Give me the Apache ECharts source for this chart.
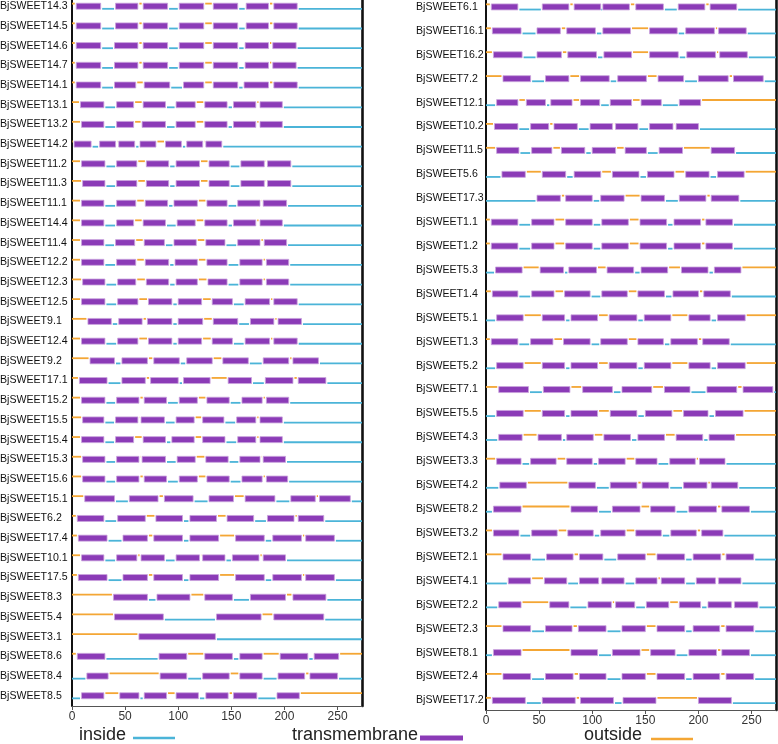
<!DOCTYPE html>
<html>
<head>
<meta charset="utf-8">
<script src="https://cdn.jsdelivr.net/npm/echarts@6/dist/echarts.min.js"></script>
<style>
    html, body { margin: 0; padding: 0; background: #fff; }
    #sweet { width: 778px; height: 744px; }
</style>
</head>
<body>
<div id="sweet"></div>
<script>
    // amino acid axis end (both panels)
    var xMax = 273;

    var leftNames = ['BjSWEET14.3', 'BjSWEET14.5', 'BjSWEET14.6', 'BjSWEET14.7', 'BjSWEET14.1', 'BjSWEET13.1',
        'BjSWEET13.2', 'BjSWEET14.2', 'BjSWEET11.2', 'BjSWEET11.3', 'BjSWEET11.1', 'BjSWEET14.4',
        'BjSWEET11.4', 'BjSWEET12.2', 'BjSWEET12.3', 'BjSWEET12.5', 'BjSWEET9.1', 'BjSWEET12.4',
        'BjSWEET9.2', 'BjSWEET17.1', 'BjSWEET15.2', 'BjSWEET15.5', 'BjSWEET15.4', 'BjSWEET15.3',
        'BjSWEET15.6', 'BjSWEET15.1', 'BjSWEET6.2', 'BjSWEET17.4', 'BjSWEET10.1', 'BjSWEET17.5',
        'BjSWEET8.3', 'BjSWEET5.4', 'BjSWEET3.1', 'BjSWEET8.6', 'BjSWEET8.4', 'BjSWEET8.5'];

    // side of the N-terminal loop: 'o' outside, 'i' inside
    var leftSides = ['o', 'o', 'o', 'o', 'o', 'o', 'o', 'o', 'o', 'o', 'o', 'o',
        'o', 'o', 'o', 'o', 'o', 'o', 'o', 'o', 'o', 'o', 'o', 'o',
        'o', 'o', 'o', 'o', 'o', 'o', 'o', 'o', 'o', 'o', 'i', 'i'];

    // transmembrane helices, start/end pairs
    var leftTM = [
        [4, 27, 41, 62, 67, 90, 101, 124, 133, 156, 164, 185, 190, 212],
        [4, 27, 41, 62, 67, 90, 101, 124, 133, 156, 164, 185, 190, 212],
        [4, 27, 40, 62, 67, 90, 101, 124, 133, 156, 163, 185, 189, 211],
        [4, 27, 40, 62, 67, 90, 101, 124, 133, 156, 163, 185, 189, 211],
        [4, 27, 40, 60, 68, 92, 105, 124, 133, 156, 162, 185, 190, 212],
        [8, 30, 42, 58, 67, 88, 98, 116, 125, 146, 152, 173, 177, 198],
        [9, 30, 42, 58, 66, 88, 98, 116, 125, 146, 152, 173, 177, 198],
        [2, 18, 26, 41, 44, 59, 64, 79, 88, 103, 108, 123, 126, 141],
        [9, 31, 42, 61, 70, 91, 98, 120, 129, 148, 159, 181, 184, 206],
        [10, 31, 42, 61, 70, 91, 98, 120, 129, 148, 159, 181, 184, 206],
        [9, 30, 42, 60, 69, 90, 96, 118, 127, 146, 156, 177, 180, 202],
        [9, 30, 42, 58, 67, 88, 99, 116, 125, 146, 152, 173, 177, 198],
        [9, 30, 41, 59, 68, 87, 96, 117, 126, 144, 156, 177, 181, 202],
        [9, 30, 42, 60, 69, 91, 97, 118, 127, 146, 158, 179, 183, 204],
        [10, 31, 43, 60, 70, 91, 98, 118, 128, 146, 158, 179, 183, 204],
        [9, 31, 43, 62, 72, 94, 100, 122, 132, 151, 163, 186, 190, 212],
        [15, 37, 44, 66, 71, 94, 100, 123, 133, 156, 168, 190, 194, 216],
        [9, 31, 43, 62, 72, 94, 100, 122, 132, 151, 163, 186, 190, 212],
        [17, 40, 47, 71, 77, 101, 108, 132, 142, 166, 180, 204, 208, 232],
        [7, 33, 47, 69, 74, 100, 105, 130, 147, 169, 182, 208, 213, 239],
        [9, 31, 42, 63, 68, 89, 101, 118, 127, 148, 160, 179, 183, 204],
        [10, 30, 41, 62, 65, 87, 98, 115, 123, 143, 155, 173, 177, 198],
        [9, 30, 41, 58, 67, 88, 94, 115, 123, 144, 156, 173, 177, 198],
        [10, 31, 42, 63, 66, 88, 99, 116, 126, 147, 158, 177, 180, 201],
        [10, 31, 42, 63, 68, 89, 101, 118, 127, 148, 160, 179, 183, 203],
        [12, 40, 54, 81, 87, 114, 129, 152, 163, 191, 206, 229, 233, 262],
        [5, 30, 43, 69, 79, 104, 111, 136, 146, 171, 184, 209, 213, 237],
        [6, 33, 48, 71, 77, 104, 111, 138, 154, 181, 189, 216, 220, 247],
        [9, 30, 42, 61, 65, 87, 98, 120, 123, 144, 151, 176, 180, 201],
        [6, 33, 48, 71, 77, 104, 111, 138, 154, 181, 189, 216, 220, 247],
        [39, 71, 80, 111, 125, 151, 168, 201, 208, 239],
        [40, 86, 136, 178, 190, 237],
        [63, 135],
        [5, 31, 82, 108, 125, 151, 158, 179, 196, 222, 228, 251],
        [14, 34, 83, 108, 123, 148, 158, 179, 194, 219, 224, 250],
        [9, 30, 45, 63, 68, 89, 98, 119, 126, 147, 152, 174, 193, 214]
    ];

    var rightNames = ['BjSWEET6.1', 'BjSWEET16.1', 'BjSWEET16.2', 'BjSWEET7.2', 'BjSWEET12.1', 'BjSWEET10.2',
        'BjSWEET11.5', 'BjSWEET5.6', 'BjSWEET17.3', 'BjSWEET1.1', 'BjSWEET1.2', 'BjSWEET5.3',
        'BjSWEET1.4', 'BjSWEET5.1', 'BjSWEET1.3', 'BjSWEET5.2', 'BjSWEET7.1', 'BjSWEET5.5',
        'BjSWEET4.3', 'BjSWEET3.3', 'BjSWEET4.2', 'BjSWEET8.2', 'BjSWEET3.2', 'BjSWEET2.1',
        'BjSWEET4.1', 'BjSWEET2.2', 'BjSWEET2.3', 'BjSWEET8.1', 'BjSWEET2.4', 'BjSWEET17.2'];

    var rightSides = ['o', 'o', 'o', 'o', 'i', 'o', 'o', 'i', 'i', 'o', 'o', 'i',
        'o', 'i', 'o', 'i', 'o', 'i', 'i', 'o', 'i', 'i', 'o', 'o',
        'i', 'i', 'o', 'i', 'o', 'o'];

    var rightTM = [
        [5, 30, 53, 78, 83, 108, 110, 135, 141, 167, 181, 206, 211, 236],
        [6, 33, 48, 70, 76, 103, 110, 136, 154, 180, 188, 215, 219, 245],
        [7, 34, 48, 71, 77, 104, 111, 137, 154, 181, 189, 216, 220, 246],
        [16, 42, 56, 78, 89, 116, 124, 151, 162, 186, 200, 228, 233, 261],
        [10, 30, 38, 56, 61, 81, 89, 107, 117, 137, 146, 165, 182, 202],
        [8, 30, 42, 59, 64, 86, 98, 119, 122, 143, 154, 176, 179, 200],
        [10, 31, 43, 62, 71, 93, 100, 122, 131, 151, 163, 185, 212, 234],
        [15, 37, 53, 75, 83, 108, 119, 144, 152, 177, 188, 210, 218, 243],
        [48, 70, 75, 100, 108, 130, 146, 168, 182, 207, 212, 238],
        [5, 30, 43, 64, 75, 100, 109, 134, 145, 170, 177, 202, 207, 232],
        [5, 30, 43, 64, 75, 100, 109, 134, 145, 170, 177, 202, 207, 232],
        [9, 34, 51, 73, 78, 104, 114, 139, 146, 171, 184, 209, 215, 240],
        [6, 30, 43, 64, 74, 98, 109, 133, 143, 168, 176, 200, 205, 230],
        [10, 35, 53, 74, 80, 105, 116, 142, 149, 174, 191, 211, 218, 244],
        [5, 30, 42, 63, 73, 98, 108, 133, 143, 167, 174, 199, 204, 229],
        [10, 35, 53, 74, 80, 105, 116, 142, 149, 174, 191, 211, 218, 244],
        [12, 40, 54, 79, 91, 119, 128, 156, 168, 192, 208, 236, 242, 270],
        [10, 35, 53, 74, 80, 105, 117, 142, 150, 175, 186, 209, 216, 242],
        [12, 34, 49, 71, 76, 101, 111, 136, 143, 168, 179, 204, 210, 234],
        [10, 33, 42, 66, 76, 100, 106, 131, 141, 161, 173, 197, 201, 225],
        [13, 38, 78, 103, 117, 142, 147, 172, 186, 208, 212, 237],
        [7, 33, 80, 105, 119, 145, 155, 178, 191, 217, 222, 248],
        [7, 31, 43, 67, 77, 101, 108, 131, 141, 165, 174, 198, 203, 223],
        [16, 42, 57, 82, 88, 110, 124, 150, 161, 187, 195, 221, 226, 252],
        [21, 42, 55, 76, 88, 106, 109, 130, 141, 161, 165, 187, 198, 216, 219, 240],
        [12, 33, 60, 78, 96, 118, 122, 140, 151, 172, 182, 202, 209, 231, 234, 256],
        [16, 42, 56, 81, 87, 113, 128, 150, 161, 187, 195, 220, 226, 252],
        [7, 33, 80, 105, 119, 145, 155, 178, 191, 217, 222, 248],
        [16, 42, 56, 82, 88, 113, 128, 150, 161, 187, 195, 220, 226, 252],
        [6, 37, 53, 84, 89, 120, 129, 160, 200, 231]
    ];

    var INSIDE = '#4bb4d8';
    var TRANS = '#8b3bb7';
    var OUTSIDE = '#f4a634';
    var FONT = '"Liberation Sans", Arial, Helvetica, sans-serif';

    // kind: 0 inside loop, 1 transmembrane, 2 outside loop
    function buildSegments(sides, tms) {
        var segs = [];
        tms.forEach(function (tm, row) {
            var side = sides[row] === 'i' ? 0 : 2;
            var pos = 0;
            for (var k = 0; k < tm.length; k += 2) {
                segs.push([pos, tm[k], row, side]);
                segs.push([tm[k], tm[k + 1], row, 1]);
                side = 2 - side;
                pos = tm[k + 1];
            }
            segs.push([pos, xMax, row, side]);
        });
        return segs;
    }

    function renderSeg(params, api) {
        var s = api.value(0), e = api.value(1), row = api.value(2), kind = api.value(3);
        var p0 = api.coord([s, row]);
        var p1 = api.coord([e, row]);
        if (kind === 1) {
            return {
                type: 'rect',
                shape: {x: p0[0], y: p0[1] - 3, width: p1[0] - p0[0], height: 6},
                style: {fill: TRANS, stroke: '#c9a3dd', lineWidth: 0.8}
            };
        }
        var dy = kind === 0 ? 2.6 : -2.6;
        var x1 = s > 0 ? p0[0] + 1.5 : p0[0];
        var x2 = e < xMax ? p1[0] - 1.5 : p1[0];
        return {
            type: 'line',
            shape: {x1: x1, y1: p0[1] + dy, x2: x2, y2: p1[1] + dy},
            style: {stroke: kind === 0 ? INSIDE : OUTSIDE, lineWidth: 1.8}
        };
    }

    function rowIndexes(names) {
        return names.map(function (n, i) { return i; });
    }

    function xAxisOpt(gridIndex) {
        return {
            type: 'value', gridIndex: gridIndex, min: 0, max: xMax, interval: 50,
            axisLine: {show: true, onZero: false, lineStyle: {color: '#555', width: 1}},
            axisTick: {show: true, length: 4, lineStyle: {color: '#555'}},
            axisLabel: {color: '#333', fontSize: 12, margin: 5, fontFamily: FONT, showMaxLabel: false},
            splitLine: {show: false}
        };
    }

    function yAxisOpts(gridIndex, names, min, max, margin) {
        return [{
            type: 'value', gridIndex: gridIndex, min: min, max: max, inverse: true, position: 'left',
            axisLine: {show: true, onZero: false, lineStyle: {color: '#111', width: 2}},
            axisTick: {show: false},
            splitLine: {show: false},
            axisLabel: {
                customValues: rowIndexes(names),
                formatter: function (v) { return names[Math.round(v)]; },
                align: 'left', margin: margin, color: '#111', fontSize: 10.6, fontFamily: FONT
            }
        }, {
            type: 'value', gridIndex: gridIndex, min: min, max: max, inverse: true, position: 'right',
            axisLine: {show: true, onZero: false, lineStyle: {color: '#111', width: 2.6}},
            axisTick: {show: false},
            axisLabel: {show: false},
            splitLine: {show: false}
        }];
    }

    var chartDom = document.getElementById('sweet');
    var myChart = echarts.init(chartDom, null, {renderer: 'canvas'});

    var yAxes = yAxisOpts(0, leftNames, -0.315, 35.52, 72).concat(yAxisOpts(1, rightNames, -0.29, 29.4, 70));

    var legendY = 737;
    var option = {
        animation: false,
        backgroundColor: '#fff',
        grid: [
            {left: 72, right: 416, top: 0, bottom: 38, containLabel: false, outerBoundsMode: 'none'},
            {left: 486, right: 2, top: 0, bottom: 34, containLabel: false, outerBoundsMode: 'none'}
        ],
        xAxis: [xAxisOpt(0), xAxisOpt(1)],
        yAxis: yAxes,
        series: [{
            type: 'custom', name: 'left', xAxisIndex: 0, yAxisIndex: 0,
            renderItem: renderSeg, clip: true,
            encode: {x: [0, 1], y: 2},
            data: buildSegments(leftSides, leftTM)
        }, {
            type: 'custom', name: 'right', xAxisIndex: 1, yAxisIndex: 2,
            renderItem: renderSeg, clip: true,
            encode: {x: [0, 1], y: 2},
            data: buildSegments(rightSides, rightTM)
        }],
        graphic: [
            {type: 'text', left: 79, top: legendY - 11, style: {text: 'inside', fontSize: 18, fontFamily: FONT, fill: '#222'}},
            {type: 'line', shape: {x1: 133, y1: legendY + 1, x2: 175, y2: legendY + 1}, style: {stroke: INSIDE, lineWidth: 2.5}},
            {type: 'text', left: 292, top: legendY - 11, style: {text: 'transmembrane', fontSize: 18, fontFamily: FONT, fill: '#222'}},
            {type: 'rect', shape: {x: 420, y: legendY - 1.5, width: 43, height: 5}, style: {fill: TRANS}},
            {type: 'text', left: 584, top: legendY - 11, style: {text: 'outside', fontSize: 18, fontFamily: FONT, fill: '#222'}},
            {type: 'line', shape: {x1: 651, y1: legendY + 2, x2: 693, y2: legendY + 2}, style: {stroke: OUTSIDE, lineWidth: 2.5}}
        ]
    };

    option && myChart.setOption(option);
</script>
</body>
</html>
